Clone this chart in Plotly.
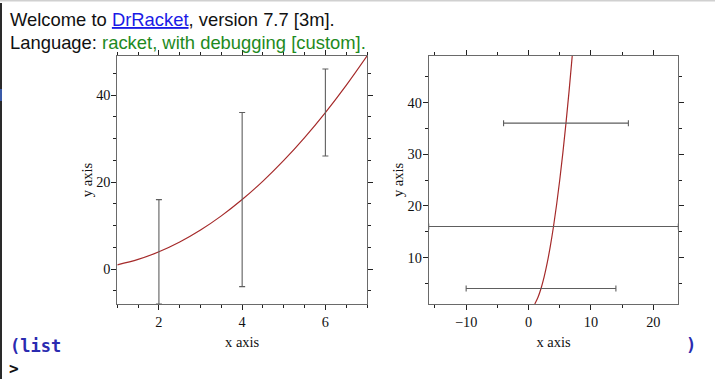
import plotly.graph_objects as go

W, H = 715, 379

# ---- data ----
curve_x = [1, 1.5, 2, 2.5, 3, 3.5, 4, 4.5, 5, 5.5, 6, 6.5, 7]
curve_y = [1, 2.25, 4, 6.25, 9, 12.25, 16, 20.25, 25, 30.25, 36, 42.25, 49]
err_x = [2, 4, 6]
err_y = [4, 16, 36]
err_size = [12, 20, 10]

left_xticks = [2, 4, 6]
left_yticks = [0, 20, 40]
right_xticks = [-10, 0, 10, 20]
right_yticks = [10, 20, 30, 40]

CURVE = "#a52a2a"
ERR = "#5e5e5e"
FRAME = "#6a6a6a"
TICK = "#222222"
SERIF = "Liberation Serif"

def px(x):
    return x / W

def py(y):
    return 1 - y / H

fig = go.Figure()

# left plot: curve + vertical error bars
fig.add_trace(go.Scatter(x=curve_x, y=curve_y, mode="lines", line=dict(color=CURVE, width=1.2, shape="spline"),
                         xaxis="x", yaxis="y", showlegend=False, hoverinfo="skip"))
fig.add_trace(go.Scatter(x=err_x, y=err_y, mode="markers", marker=dict(size=1, color="rgba(0,0,0,0)"),
                         error_y=dict(type="data", array=err_size, color=ERR, thickness=1.1, width=3),
                         xaxis="x", yaxis="y", showlegend=False, hoverinfo="skip"))
# right plot: same curve, horizontal error bars
fig.add_trace(go.Scatter(x=curve_x, y=curve_y, mode="lines", line=dict(color=CURVE, width=1.2, shape="spline"),
                         xaxis="x2", yaxis="y2", showlegend=False, hoverinfo="skip"))
fig.add_trace(go.Scatter(x=err_x, y=err_y, mode="markers",
                         marker=dict(size=1, color="rgba(0,0,0,0)"),
                         error_x=dict(type="data", array=err_size, color=ERR, thickness=1.1, width=3),
                         xaxis="x2", yaxis="y2", showlegend=False, hoverinfo="skip"))

ydom = [py(304), py(56)]
ldom = [px(117.3), px(367)]
rdom = [px(428.7), px(678.3)]

tickfont = dict(family=SERIF, size=14.3, color="#111")
titlefont = dict(family=SERIF, size=14.5, color="#111")

def main_axis(dom, rng, vals, minor_dtick, anchor, title, standoff, lab_off):
    return dict(domain=dom, range=rng, anchor=anchor, tickmode="array", tickvals=vals,
                ticks="outside", ticklen=5, tickwidth=1, tickcolor=TICK, mirror="allticks",
                showline=True, linecolor=FRAME, linewidth=1, showgrid=False, zeroline=False,
                tickfont=tickfont, ticklabelstandoff=lab_off,
                title=dict(text=title, font=titlefont, standoff=standoff),
                minor=dict(dtick=minor_dtick, tick0=0, ticks="outside", ticklen=3, tickcolor=TICK, tickwidth=1,
                           showgrid=False),
                fixedrange=True)

def overlay_axis(over, dom, rng, vals, minor_dtick, anchor, side):
    return dict(overlaying=over, domain=dom, range=rng, anchor=anchor, side=side, tickmode="array", tickvals=vals,
                ticks="inside", ticklen=4, tickwidth=1, tickcolor=TICK, mirror="allticks",
                showline=False, showgrid=False, zeroline=False, showticklabels=False,
                minor=dict(dtick=minor_dtick, tick0=0, ticks="inside", ticklen=2, tickcolor=TICK, tickwidth=1,
                           showgrid=False),
                fixedrange=True)

fig.update_layout(
    width=W, height=H, margin=dict(l=0, r=0, t=0, b=0),
    paper_bgcolor="white", plot_bgcolor="white", showlegend=False,
    xaxis=main_axis(ldom, [1, 7], left_xticks, 0.5, "y", "x axis", 7, 0),
    yaxis=main_axis(ydom, [-8, 49], left_yticks, 5, "x", "y axis", 0, -2),
    xaxis2=main_axis(rdom, [-16, 24], right_xticks, 5, "y2", "x axis", 7, 0),
    yaxis2=main_axis(ydom, [1, 49], right_yticks, 5, "x2", "y axis", 0, -2),
    xaxis3=overlay_axis("x", ldom, [1, 7], left_xticks, 0.5, "y", "bottom"),
    yaxis3=overlay_axis("y", ydom, [-8, 49], left_yticks, 5, "x", "left"),
    xaxis4=overlay_axis("x2", rdom, [-16, 24], right_xticks, 5, "y2", "bottom"),
    yaxis4=overlay_axis("y2", ydom, [1, 49], right_yticks, 5, "x2", "left"),
)

SANS = "Liberation Sans"
MONO = "DejaVu Sans Mono"
ann = [
    dict(text="Welcome to <span style='color:#1a1ae6;text-decoration:underline'>DrRacket</span>, version 7.7 [3m].",
         x=px(8), y=py(19), xanchor="left", yanchor="middle", font=dict(family=SANS, size=18.4, color="#111")),
    dict(text="Language: <span style='color:#1e8a1e'>racket, with debugging [custom].</span>",
         x=px(8), y=py(42), xanchor="left", yanchor="middle", font=dict(family=SANS, size=18.4, color="#111")),
    dict(text="<b>(list</b>", x=px(8), y=py(346), xanchor="left", yanchor="middle",
         font=dict(family=MONO, size=17, color="#2b2bb0")),
    dict(text="<b>)</b>", x=px(684), y=py(345), xanchor="left", yanchor="middle",
         font=dict(family=MONO, size=17, color="#2b2bb0")),
    dict(text="<b>></b>", x=px(7), y=py(368), xanchor="left", yanchor="middle",
         font=dict(family=MONO, size=16, color="#111")),
]
for a in ann:
    a.update(xref="paper", yref="paper", showarrow=False)
fig.update_layout(annotations=ann)

shapes = [
    dict(type="line", xref="paper", yref="paper", x0=0, x1=1, y0=py(0.8), y1=py(0.8),
         line=dict(color="#d0d0d0", width=1.5)),
    dict(type="line", xref="paper", yref="paper", x0=px(1), x1=px(1), y0=py(3), y1=0,
         line=dict(color="#2a2a2a", width=2)),
    dict(type="line", xref="paper", yref="paper", x0=px(1), x1=px(1), y0=py(89), y1=py(101),
         line=dict(color="#3a5aa8", width=2)),
]
fig.update_layout(shapes=shapes)

fig.write_html("out.html")
